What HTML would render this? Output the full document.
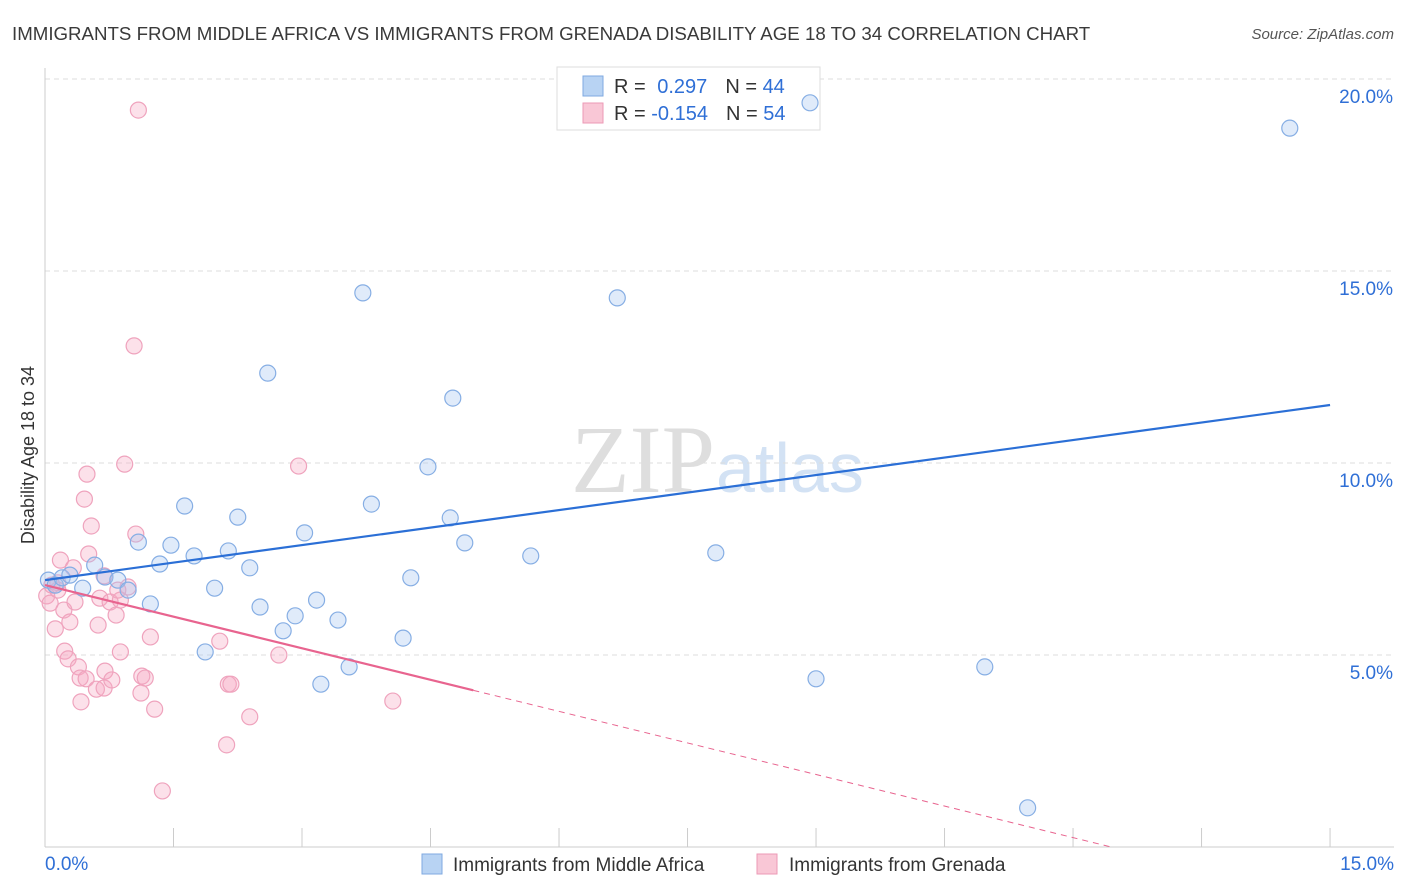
<!DOCTYPE html>
<html><head><meta charset="utf-8"><style>
body{margin:0;background:#fff;font-family:"Liberation Sans",sans-serif;}
svg{display:block}
</style></head><body>
<svg id="c" width="1406" height="892">
<text x="12" y="40" font-size="18.7" fill="#3a3a3a">IMMIGRANTS FROM MIDDLE AFRICA VS IMMIGRANTS FROM GRENADA DISABILITY AGE 18 TO 34 CORRELATION CHART</text>
<text x="1394" y="39" font-size="15" fill="#555" font-style="italic" text-anchor="end">Source: ZipAtlas.com</text>
<text x="715" y="492" font-size="96" fill="#dedede" font-family="Liberation Serif,serif" text-anchor="end">ZIP</text>
<text x="716" y="492" font-size="70" fill="#d3e2f4">atlas</text>
<text transform="translate(34,455) rotate(-90)" font-size="18" fill="#333" text-anchor="middle">Disability Age 18 to 34</text>
<g id="grid"></g>
<g>
<rect x="557" y="67" width="263" height="63" fill="#fff" stroke="#ddd"/>
<rect x="583" y="76" width="20" height="20" fill="#b8d3f3" stroke="#7fa9e0"/>
<rect x="583" y="103" width="20" height="20" fill="#f9c7d6" stroke="#ec9ab6"/>
<text x="614" y="93" font-size="20" fill="#333">R = <tspan fill="#2f6fd6" dx="6">0.297</tspan><tspan fill="#333" dx="18">N = </tspan><tspan fill="#2f6fd6">44</tspan></text>
<text x="614" y="120" font-size="20" fill="#333">R = <tspan fill="#2f6fd6">-0.154</tspan><tspan fill="#333" dx="18">N = </tspan><tspan fill="#2f6fd6">54</tspan></text>
</g>
<g id="marks"></g>
<g>
<rect x="422" y="854" width="20" height="20" fill="#b8d3f3" stroke="#7fa9e0"/>
<text x="453" y="871" font-size="19" fill="#333">Immigrants from Middle Africa</text>
<rect x="757" y="854" width="20" height="20" fill="#f9c7d6" stroke="#ec9ab6"/>
<text x="789" y="871" font-size="19" fill="#333">Immigrants from Grenada</text>
</g>
</svg>
<script>
const blueX=[0.04,0.12,0.20,0.29,0.44,0.58,0.70,0.85,0.97,1.09,1.23,1.34,1.47,1.63,1.74,1.87,1.98,2.14,2.25,2.39,2.51,2.60,2.78,2.92,3.03,3.17,3.22,3.42,3.55,3.71,3.81,4.18,4.27,4.47,4.73,4.76,4.90,5.67,6.68,7.83,8.93,9.00,10.97,11.47,14.53];
const blueY=[6.95,6.82,7.01,7.08,6.74,7.34,7.03,6.95,6.69,7.94,6.33,7.37,7.86,8.88,7.58,5.08,6.74,7.71,8.59,7.27,6.25,12.34,5.63,6.02,8.18,6.43,4.24,5.91,4.69,14.43,8.93,5.44,7.01,9.90,8.57,11.69,7.92,7.58,14.30,7.66,19.38,4.38,4.69,1.02,18.72];
const pinkX=[1.09,1.04,0.93,2.96,0.49,0.46,0.54,1.06,0.18,0.51,0.33,0.69,0.02,0.06,0.15,0.22,0.35,0.64,0.76,0.88,0.83,0.12,0.29,0.62,1.23,2.04,0.23,0.27,0.88,0.39,0.70,0.41,0.48,1.13,1.17,0.60,0.69,0.78,1.12,2.14,2.17,2.73,0.42,1.28,2.39,4.06,2.12,1.37,0.15,0.08,0.97,0.85];
const pinkY=[19.19,13.05,9.97,9.92,9.71,9.06,8.36,8.15,7.47,7.63,7.27,7.06,6.54,6.35,6.88,6.17,6.38,6.48,6.38,6.43,6.04,5.68,5.86,5.78,5.47,5.36,5.10,4.90,5.08,4.69,4.58,4.40,4.38,4.45,4.40,4.11,4.14,4.35,4.01,4.24,4.24,5.00,3.78,3.59,3.39,3.80,2.66,1.46,6.69,6.82,6.77,6.69];
const blueTrend=[6.95,11.51];
const pinkTrend=[6.82,-1.4];
const yTicks=[5,10,15,20];
const xTicks=[0,1.5,3,4.5,6,7.5,9,10.5,12,13.5,15];
const NS="http://www.w3.org/2000/svg";
const sx=v=>45+v*85.67, sy=v=>847-v*38.4;
function mk(t,a,p){const e=document.createElementNS(NS,t);for(const k in a)e.setAttribute(k,a[k]);p.appendChild(e);return e;}
const grid=document.getElementById('grid'),marks=document.getElementById('marks');
yTicks.forEach(v=>{
 const l=mk('line',{x1:45,x2:1394,y1:sy(v),y2:sy(v),stroke:'#ddd','stroke-dasharray':'5,4'},grid);
 
 
 const t=mk('text',{x:1393,y:sy(v)+24,'font-size':19,fill:'#2f6fd6','text-anchor':'end'},grid);
 t.textContent=v.toFixed(1)+'%';
 
 
});
mk('line',{x1:45,x2:45,y1:68,y2:847,stroke:'#ccc'},grid);
mk('line',{x1:45,x2:1394,y1:847,y2:847,stroke:'#ccc'},grid);
xTicks.forEach(v=>{
 const l=mk('line',{x1:sx(v),x2:sx(v),y1:828,y2:847,stroke:'#ccc'},grid);
 
 
});
[[0,'start',45],[15,'end',1394]].forEach(([v,a,x])=>{
 const t=mk('text',{x:x,y:870,'font-size':19,fill:'#2f6fd6','text-anchor':a},grid);
 t.textContent=v.toFixed(1)+'%';
 
 
});
pinkX.forEach((x,i)=>{
 const c=mk('circle',{cx:sx(x),cy:sy(pinkY[i]),r:8,fill:'rgba(246,170,196,0.35)',stroke:'#efa3bd','stroke-width':1.2},marks);
 
 
});
blueX.forEach((x,i)=>{
 const c=mk('circle',{cx:sx(x),cy:sy(blueY[i]),r:8,fill:'rgba(165,198,240,0.35)',stroke:'#86aee4','stroke-width':1.2},marks);
 
 
});
const bl=mk('line',{x1:sx(0),y1:sy(blueTrend[0]),x2:sx(15),y2:sy(blueTrend[1]),stroke:'#2b6fd6','stroke-width':2.2},marks);


const pf=x=>pinkTrend[0]+(pinkTrend[1]-pinkTrend[0])*x/15;
const pl=mk('line',{x1:sx(0),y1:sy(pf(0)),x2:sx(5),y2:sy(pf(5)),stroke:'#e8648f','stroke-width':2.2},marks);


const xe=Math.min(15,15*pinkTrend[0]/(pinkTrend[0]-pinkTrend[1]));
const pd=mk('line',{x1:sx(5),y1:sy(pf(5)),x2:sx(xe),y2:sy(pf(xe)),stroke:'#e8648f','stroke-width':1,'stroke-dasharray':'6,5'},marks);


</script>
</body></html>
